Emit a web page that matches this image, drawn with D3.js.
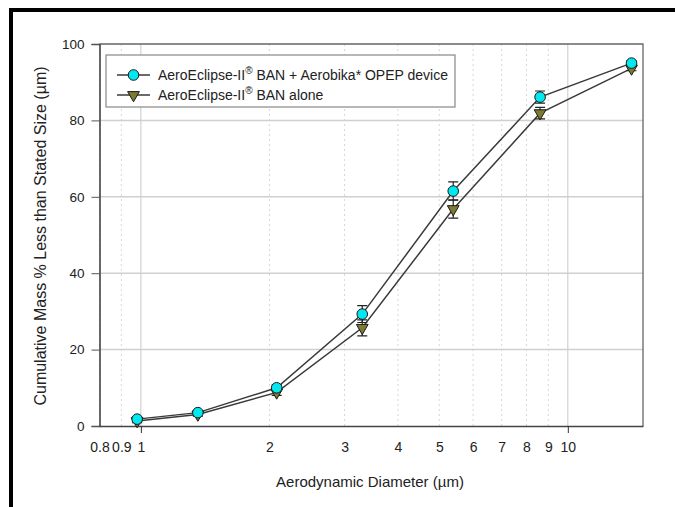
<!DOCTYPE html>
<html>
<head>
<meta charset="utf-8">
<script src="https://cdn.jsdelivr.net/npm/d3@7"></script>
<style>
  body { margin: 0; background: #fff; }
  svg { font-family: Arial, "Liberation Sans", sans-serif; }
</style>
</head>
<body>
<svg id="chart" width="675" height="507"></svg>
<script>
// NGI stage cut-off diameters (um)
var diameters = [0.98, 1.36, 2.08, 3.30, 5.39, 8.61, 14.1];
var withOpep = [1.8, 3.5, 10.0, 29.3, 61.5, 86.1, 95.0];
var withOpepErr = [0.5, 0.5, 0.8, 2.2, 2.4, 1.6, 0.6];
var alone = [1.3, 3.0, 8.8, 25.7, 56.8, 81.9, 93.6];
var aloneErr = [0.4, 0.4, 0.8, 2.1, 2.4, 1.5, 0.6];
var xTicks = [0.8, 0.9, 1, 2, 3, 4, 5, 6, 7, 8, 9, 10];
var yTicks = [0, 20, 40, 60, 80, 100];
var seriesNames = ["AeroEclipse-II", "AeroEclipse-II"];
var seriesTails = [" BAN + Aerobika* OPEP device", " BAN alone"];

var svg = d3.select("#chart");
var margin = {top: 44, right: 32, bottom: 81, left: 99.5};
var width = 675, height = 507;

var xScale = d3.scaleLog()
    .domain([0.8, 15])
    .range([margin.left, width - margin.right]);
var yScale = d3.scaleLinear()
    .domain([0, 100])
    .range([height - margin.bottom, margin.top]);

// outer black frame
svg.append("path")
    .attr("d", "M11,507 V10 H675")
    .attr("fill", "none")
    .attr("stroke", "#000")
    .attr("stroke-width", 4);

// grid
var grid = svg.append("g");
xTicks.forEach(function (t) {
    var major = (t == 1 || t == 10);
    grid.append("line")
        .attr("x1", xScale(t)).attr("x2", xScale(t))
        .attr("y1", yScale(0)).attr("y2", yScale(100))
        .attr("stroke", major ? "#c8c8c8" : "#d6d6d6")
        .attr("stroke-width", 1)
        .attr("stroke-dasharray", major ? null : "2,3");
});
yTicks.slice(1, -1).forEach(function (t) {
    grid.append("line")
        .attr("x1", xScale(0.8)).attr("x2", xScale(15))
        .attr("y1", yScale(t)).attr("y2", yScale(t))
        .attr("stroke", "#d0d0d0")
        .attr("stroke-width", 1.5);
});

// plot frame (top/right)
svg.append("path")
    .attr("d", "M" + xScale(0.8) + "," + yScale(100) + " H" + xScale(15) + " V" + yScale(0))
    .attr("fill", "none")
    .attr("stroke", "#666")
    .attr("stroke-width", 1.3);

// axes
var x_axis = d3.axisBottom(xScale)
    .tickValues(xTicks)
    .tickSize(0)
    .tickPadding(16)
    .tickFormat(function (d) { return d; });
var xg = svg.append("g")
    .attr("transform", "translate(0," + yScale(0) + ")")
    .call(x_axis);
xg.select(".domain").attr("stroke", "#444").attr("stroke-width", 1.6);
xg.selectAll(".tick").filter(function (d) { return d == 1 || d == 10; })
    .append("line").attr("y2", 7).attr("stroke", "#333");
xg.selectAll("text").attr("font-size", 14).attr("fill", "#222")
    .attr("font-family", "Arial, 'Liberation Sans', sans-serif");

var y_axis = d3.axisLeft(yScale)
    .tickValues(yTicks)
    .tickSize(8)
    .tickPadding(7);
var yg = svg.append("g")
    .attr("transform", "translate(" + xScale(0.8) + ",0)")
    .call(y_axis);
yg.select(".domain").attr("stroke", "#444").attr("stroke-width", 1.6);
yg.selectAll(".tick line").attr("stroke", "#555");
yg.selectAll("text").attr("font-size", 13.5).attr("fill", "#222")
    .attr("font-family", "Arial, 'Liberation Sans', sans-serif");

// axis titles
svg.append("text")
    .attr("x", 370).attr("y", 487)
    .attr("text-anchor", "middle")
    .attr("font-size", 15).attr("fill", "#222")
    .text("Aerodynamic Diameter (\u00b5m)");
svg.append("text")
    .attr("transform", "translate(46,236) rotate(-90)")
    .attr("text-anchor", "middle")
    .attr("font-size", 16).attr("fill", "#222")
    .text("Cumulative Mass % Less than Stated Size (\u00b5m)");

var line = d3.line()
    .x(function (d) { return xScale(d.x); })
    .y(function (d) { return yScale(d.y); });

function drawSeries(values, errs, kind) {
    var pts = diameters.map(function (x, i) { return {x: x, y: values[i], e: errs[i]}; });
    svg.append("path")
        .datum(pts)
        .attr("d", line)
        .attr("fill", "none")
        .attr("stroke", "#3a3a3a")
        .attr("stroke-width", 1.5);
    var g = svg.append("g");
    pts.forEach(function (p) {
        var cx = xScale(p.x);
        var yt = yScale(p.y + p.e), yb = yScale(p.y - p.e);
        g.append("path")
            .attr("d", "M" + cx + "," + yt + " V" + yb +
                " M" + (cx - 5) + "," + yt + " H" + (cx + 5) +
                " M" + (cx - 5) + "," + yb + " H" + (cx + 5))
            .attr("stroke", "#222")
            .attr("stroke-width", 1.2)
            .attr("fill", "none");
    });
    pts.forEach(function (p) {
        drawMarker(g, xScale(p.x), yScale(p.y), kind);
    });
}

function drawMarker(g, cx, cy, kind) {
    if (kind == "circle") {
        g.append("circle")
            .attr("cx", cx).attr("cy", cy).attr("r", 5.3)
            .attr("fill", "#00e8f0")
            .attr("stroke", "#1a1a1a").attr("stroke-width", 1);
    } else {
        g.append("path")
            .attr("d", d3.symbol(d3.symbolTriangle, 60)())
            .attr("transform", "translate(" + cx + "," + cy + ") rotate(180)")
            .attr("fill", "#7d7a32")
            .attr("stroke", "#1a1a1a").attr("stroke-width", 1);
    }
}

drawSeries(alone, aloneErr, "triangle");
drawSeries(withOpep, withOpepErr, "circle");

// legend
var lg = svg.append("g");
lg.append("rect")
    .attr("x", 106).attr("y", 55)
    .attr("width", 349).attr("height", 52)
    .attr("fill", "#fff")
    .attr("stroke", "#888").attr("stroke-width", 1.2);
["circle", "triangle"].forEach(function (kind, i) {
    var ly = 75 + i * 20;
    lg.append("line")
        .attr("x1", 117).attr("x2", 150)
        .attr("y1", ly).attr("y2", ly)
        .attr("stroke", "#3a3a3a").attr("stroke-width", 1.5);
    drawMarker(lg, 133.5, ly, kind);
    var t = lg.append("text")
        .attr("x", 158).attr("y", ly + 5)
        .attr("font-size", 14).attr("fill", "#222");
    t.append("tspan").text(seriesNames[i]);
    t.append("tspan").attr("font-size", 10).attr("dy", -6).text("\u00ae");
    t.append("tspan").attr("dy", 6).text(seriesTails[i]);
});
</script>
</body>
</html>
